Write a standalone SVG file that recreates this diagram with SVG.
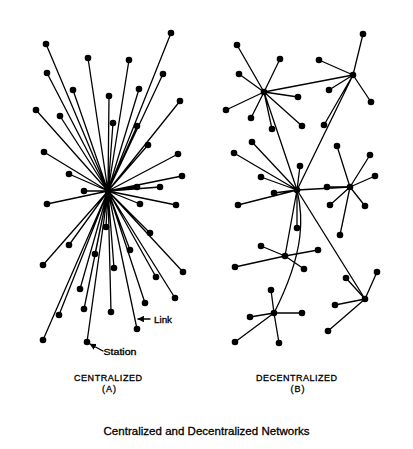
<svg xmlns="http://www.w3.org/2000/svg" width="413" height="449" viewBox="0 0 413 449">
<style>
.e{stroke:#000;stroke-width:1.3;fill:none;stroke-linecap:round}
.n{fill:#000}
.t{font-family:"Liberation Sans",Arial,sans-serif;fill:#000;stroke:#000;stroke-width:0.3}
</style>
<defs>
<marker id="ah" viewBox="0 0 6 6" refX="5.5" refY="3" markerWidth="5" markerHeight="5" orient="auto">
<path d="M0,0 L6,3 L0,6 z" fill="#000"/>
</marker>
<circle id="dot" r="3.3" class="n"/>
</defs>
<rect width="413" height="449" fill="#fff"/>
<g id="connectors">
<g id="central-links" class="e">
<path d="M108,191L171,33M108,191L46,44M108,191L88,58M108,191L129,60M108,191L47,73M108,191L163,74M108,191L73,90M108,191L139,89M108,191L109,96M108,191L180,101M108,191L36,110M108,191L60,116M108,191L113,123M108,191L137,126M108,191L148,145M108,191L44,152M108,191L178,154M108,191L69,174M108,191L182,176M108,191L84,191M108,191L137,187M108,191L160,187M108,191L47,204M108,191L140,204M108,191L176,205M108,191L106,227M108,191L150,233M108,191L69,245M108,191L95,254M108,191L130,250M108,191L43,265M108,191L114,268M108,191L183,272M108,191L156,277M108,191L80,289M108,191L175,298M108,191L145,303M108,191L84,309M108,191L111,312M108,191L59,315M108,191L137,329M108,191L43,340M108,191L87,342"/>
</g>
<g id="decentral-links" class="e">
<path d="M264,92L237,45M264,92L280,59M264,92L239,74M264,92L226,110M264,92L251,118M264,92L272,129M264,92L298,97M264,92L302,126M264,92L353,75M264,92L297,190"/>
<path d="M353,75L363,34M353,75L319,60M353,75L329,90M353,75L371,102M353,75L324,125M353,75L297,190"/>
<path d="M297,190L252,142M297,190L234,153M297,190L261,177M297,190L300,166M297,190L274,193M297,190L238,205M297,190L297,228M297,190L350,187M297,190L285,256M297,190L365,299"/>
<path d="M297,190C303,215 306,250 274,313"/>
<path d="M350,187L327,187M350,187L330,205M350,187L365,206M350,187L340,235M350,187L337,146M350,187L370,155M350,187L375,176"/>
<path d="M285,256L261,246M285,256L318,250M285,256L235,267M285,256L304,269"/>
<path d="M365,299L377,272M365,299L346,278M365,299L335,305M365,299L328,331"/>
<path d="M274,313L271,290M274,313L250,317M274,313L302,313M274,313L235,342M274,313L279,343"/>
</g>
<g id="label-pointers" class="e" stroke-width="1.1">
<line x1="150" y1="319" x2="138" y2="319" marker-end="url(#ah)"/>
<line x1="103" y1="351" x2="90" y2="344" marker-end="url(#ah)"/>
</g>
</g>
<g id="centralized-nodes">
<g id="c-hub"><use href="#dot" x="108" y="191"/></g>
<g id="c1"><use href="#dot" x="171" y="33"/></g>
<g id="c2"><use href="#dot" x="46" y="44"/></g>
<g id="c3"><use href="#dot" x="88" y="58"/></g>
<g id="c4"><use href="#dot" x="129" y="60"/></g>
<g id="c5"><use href="#dot" x="47" y="73"/></g>
<g id="c6"><use href="#dot" x="163" y="74"/></g>
<g id="c7"><use href="#dot" x="73" y="90"/></g>
<g id="c8"><use href="#dot" x="139" y="89"/></g>
<g id="c9"><use href="#dot" x="109" y="96"/></g>
<g id="c10"><use href="#dot" x="180" y="101"/></g>
<g id="c11"><use href="#dot" x="36" y="110"/></g>
<g id="c12"><use href="#dot" x="60" y="116"/></g>
<g id="c13"><use href="#dot" x="113" y="123"/></g>
<g id="c14"><use href="#dot" x="137" y="126"/></g>
<g id="c15"><use href="#dot" x="148" y="145"/></g>
<g id="c16"><use href="#dot" x="44" y="152"/></g>
<g id="c17"><use href="#dot" x="178" y="154"/></g>
<g id="c18"><use href="#dot" x="69" y="174"/></g>
<g id="c19"><use href="#dot" x="182" y="176"/></g>
<g id="c20"><use href="#dot" x="84" y="191"/></g>
<g id="c21"><use href="#dot" x="137" y="187"/></g>
<g id="c22"><use href="#dot" x="160" y="187"/></g>
<g id="c23"><use href="#dot" x="47" y="204"/></g>
<g id="c24"><use href="#dot" x="140" y="204"/></g>
<g id="c25"><use href="#dot" x="176" y="205"/></g>
<g id="c26"><use href="#dot" x="106" y="227"/></g>
<g id="c27"><use href="#dot" x="150" y="233"/></g>
<g id="c28"><use href="#dot" x="69" y="245"/></g>
<g id="c29"><use href="#dot" x="95" y="254"/></g>
<g id="c30"><use href="#dot" x="130" y="250"/></g>
<g id="c31"><use href="#dot" x="43" y="265"/></g>
<g id="c32"><use href="#dot" x="114" y="268"/></g>
<g id="c33"><use href="#dot" x="183" y="272"/></g>
<g id="c34"><use href="#dot" x="156" y="277"/></g>
<g id="c35"><use href="#dot" x="80" y="289"/></g>
<g id="c36"><use href="#dot" x="175" y="298"/></g>
<g id="c37"><use href="#dot" x="145" y="303"/></g>
<g id="c38"><use href="#dot" x="84" y="309"/></g>
<g id="c39"><use href="#dot" x="111" y="312"/></g>
<g id="c40"><use href="#dot" x="59" y="315"/></g>
<g id="c41"><use href="#dot" x="137" y="329"/></g>
<g id="c42"><use href="#dot" x="43" y="340"/></g>
<g id="c43"><use href="#dot" x="87" y="342"/></g>
</g>
<g id="decentralized-nodes">
<g id="hubA"><use href="#dot" x="353" y="75"/></g>
<g id="hubB"><use href="#dot" x="264" y="92"/></g>
<g id="hubC"><use href="#dot" x="350" y="187"/></g>
<g id="hubD"><use href="#dot" x="297" y="190"/></g>
<g id="hubE"><use href="#dot" x="285" y="256"/></g>
<g id="hubF"><use href="#dot" x="365" y="299"/></g>
<g id="hubG"><use href="#dot" x="274" y="313"/></g>
<g id="d1"><use href="#dot" x="363" y="34"/></g>
<g id="d2"><use href="#dot" x="237" y="45"/></g>
<g id="d3"><use href="#dot" x="280" y="59"/></g>
<g id="d4"><use href="#dot" x="319" y="60"/></g>
<g id="d5"><use href="#dot" x="239" y="74"/></g>
<g id="d6"><use href="#dot" x="329" y="90"/></g>
<g id="d7"><use href="#dot" x="298" y="97"/></g>
<g id="d8"><use href="#dot" x="226" y="110"/></g>
<g id="d9"><use href="#dot" x="371" y="102"/></g>
<g id="d10"><use href="#dot" x="251" y="118"/></g>
<g id="d11"><use href="#dot" x="302" y="126"/></g>
<g id="d12"><use href="#dot" x="272" y="129"/></g>
<g id="d13"><use href="#dot" x="324" y="125"/></g>
<g id="d14"><use href="#dot" x="252" y="142"/></g>
<g id="d15"><use href="#dot" x="337" y="146"/></g>
<g id="d16"><use href="#dot" x="234" y="153"/></g>
<g id="d17"><use href="#dot" x="370" y="155"/></g>
<g id="d18"><use href="#dot" x="300" y="166"/></g>
<g id="d19"><use href="#dot" x="261" y="177"/></g>
<g id="d20"><use href="#dot" x="375" y="176"/></g>
<g id="d21"><use href="#dot" x="327" y="187"/></g>
<g id="d22"><use href="#dot" x="274" y="193"/></g>
<g id="d23"><use href="#dot" x="238" y="205"/></g>
<g id="d24"><use href="#dot" x="330" y="205"/></g>
<g id="d25"><use href="#dot" x="365" y="206"/></g>
<g id="d26"><use href="#dot" x="297" y="228"/></g>
<g id="d27"><use href="#dot" x="340" y="235"/></g>
<g id="d28"><use href="#dot" x="261" y="246"/></g>
<g id="d29"><use href="#dot" x="318" y="250"/></g>
<g id="d30"><use href="#dot" x="235" y="267"/></g>
<g id="d31"><use href="#dot" x="304" y="269"/></g>
<g id="d32"><use href="#dot" x="377" y="272"/></g>
<g id="d33"><use href="#dot" x="346" y="278"/></g>
<g id="d34"><use href="#dot" x="271" y="290"/></g>
<g id="d35"><use href="#dot" x="335" y="305"/></g>
<g id="d36"><use href="#dot" x="250" y="317"/></g>
<g id="d37"><use href="#dot" x="302" y="313"/></g>
<g id="d38"><use href="#dot" x="328" y="331"/></g>
<g id="d39"><use href="#dot" x="235" y="342"/></g>
<g id="d40"><use href="#dot" x="279" y="343"/></g>
</g>
<g id="labels" class="t">
<text x="154" y="323" font-size="9" textLength="18" lengthAdjust="spacingAndGlyphs">Link</text>
<text x="103.5" y="355" font-size="9" textLength="33" lengthAdjust="spacingAndGlyphs">Station</text>
<text x="74" y="380.5" font-size="9" textLength="68" lengthAdjust="spacing">CENTRALIZED</text>
<text x="109.5" y="391.5" font-size="9" text-anchor="middle" letter-spacing="1">(A)</text>
<text x="256" y="380.5" font-size="9" textLength="81" lengthAdjust="spacing">DECENTRALIZED</text>
<text x="298" y="391.5" font-size="9" text-anchor="middle" letter-spacing="1">(B)</text>
<text x="103.5" y="434.5" font-size="11.5" textLength="206" lengthAdjust="spacing">Centralized and Decentralized Networks</text>
</g>
</svg>
